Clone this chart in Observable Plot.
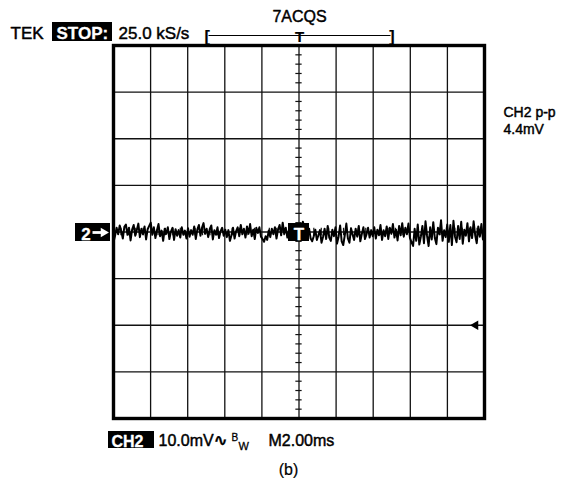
<!DOCTYPE html>
<html>
<head>
<meta charset="utf-8">
<script src="https://cdn.jsdelivr.net/npm/d3@7"></script>
<script src="https://cdn.jsdelivr.net/npm/@observablehq/plot@0.6"></script>
<style>
  html, body { margin: 0; padding: 0; background: #fff; }
</style>
</head>
<body>
<div id="chart"></div>
<script>
// ---- data (mV, 10 mV/div, 2.00 ms/div, 10 divisions) ----
const timeDivs = [0, 2, 4, 6, 8, 10, 12, 14, 16, 18, 20];          // ms
const voltDivs = [-40, -30, -20, -10, 0, 10, 20, 30, 40];          // mV
const trace = [
  -2.2, -0.8, 0.9, -0.5, 1.4, 0.2, -1.4, 1.1, 1.6, -0.6, 0.9, -1.8, 0.5, 1.5, -0.8, 0.4, 1.8, -1.1, 0.7, -0.5, 1.2, -1.6, 0.6, 1.3,
  2.0, -0.6, 1.0, -1.3, 0.4, 1.7, -0.9, 0.3, -1.9, 0.7, -0.4, 1.0, -1.5, 0.1, 0.9, -1.7, 0.6, -0.8, 0.4, -1.2, 1.0, -0.6, 0.3, -1.4,
  0.8, -1.0, 0.4, -0.6, 1.2, -1.5, 0.5, 1.5, -0.8, 0.9, 1.9, -0.4, 0.7, -1.1, 0.6, 1.4, -1.6, 0.4, -0.6, 1.0, -1.3, 0.2, 0.9, -0.8,
  0.5, -1.1, 0.4, -1.9, -0.7, 0.9, -1.4, 0.2, 1.0, -0.9, 1.5, -0.5, 0.7, -1.2, 1.2, -0.4, 1.7, -0.9, 0.5, -1.5, 0.9, -0.2, 1.0, -1.0,
  -1.5, -2.1, -0.9, -1.7, 0.3, -1.1, 0.7, -0.5, 1.0, -1.4, 0.5, 1.5, -0.7, 2.0, -0.4, 0.9, -1.2, 0.4, 1.1, -0.9, 0.7, -0.5, 0.4, 0.0,
  0.9, -0.7, 2.2, 1.0, 1.6, -0.5, 0.7, -1.4, -2.0, -0.9, 0.5, -1.7, -0.7, 0.4, -2.3, -1.0, 0.7, -1.5, 1.3, -1.2, -1.9, 0.5, -0.9, 1.0,
  -2.5, -1.0, 1.4, -2.0, -2.8, -0.7, 1.8, -1.4, -2.3, 0.8, -0.5, -1.7, 0.7, -1.0, 1.3, -2.0, -0.4, 1.0, -1.5, -0.5, 0.9, -1.2, 0.4, -0.9,
  1.0, -1.4, 0.5, -0.7, 1.5, -1.7, 0.4, -0.9, 1.2, -1.5, 0.9, -0.4, 1.7, -1.2, 0.5, -1.8, 1.3, -0.7, 1.9, -1.0, 0.9, -0.5, 1.8, -1.3,
  -2.2, -3.0, 0.7, -1.9, 1.6, -2.7, -1.0, 1.3, -2.4, 2.3, -0.8, -3.0, 1.0, -1.6, 2.1, -1.3, -2.6, 0.9, -0.5, 2.5, -1.9, 0.4, -1.1, 1.6,
  -2.1, 1.5, -2.8, 2.4, -1.0, -2.2, 1.3, -1.5, 2.2, -2.5, 0.5, -0.8, 1.9, -2.0, 1.0, -1.3, 2.3, -0.7, -2.4, 1.2, -1.0, 1.7, -1.6, 0.7
];
const minorV = [-38,-36,-34,-32,-28,-26,-24,-22,-18,-16,-14,-12,-8,-6,-4,-2,2,4,6,8,12,14,16,18,22,24,26,28,32,34,36,38];
const minorT = [0.4,0.8,1.2,1.6,2.4,2.8,3.2,3.6,4.4,4.8,5.2,5.6,6.4,6.8,7.2,7.6,8.4,8.8,9.2,9.6,
                10.4,10.8,11.2,11.6,12.4,12.8,13.2,13.6,14.4,14.8,15.2,15.6,16.4,16.8,17.2,17.6,18.4,18.8,19.2,19.6];
const triggerT = 10;      // ms, trigger position
const refLevel = -20;     // mV, trigger level arrow

// ---- layout ----
const W = 569, H = 484, ML = 113, MR = 85, MT = 45, MB = 66;
const X = px => (px - ML) / (W - ML - MR) * 20;
const V = py => 40 - (py - MT) / (H - MT - MB) * 80;
const dt = 20 / (trace.length - 1);
const font = "Liberation Sans, Arial, Helvetica, sans-serif";

// text helper (slightly thickened like the scope's display font)
const label = (s, px, py, o = {}) => {
  const col = o.fill || "#000";
  return Plot.text([s], {
    x: X(px), y: V(py), text: d => d, textAnchor: o.anchor || "start", lineAnchor: "bottom",
    fontSize: o.size || 16, fontWeight: o.weight || "normal", fontFamily: o.family || font,
    fill: col, stroke: col, strokeWidth: o.sw == null ? 0.45 : o.sw
  });
};

const plot = Plot.plot({
  width: W, height: H,
  marginLeft: ML, marginRight: MR, marginTop: MT, marginBottom: MB,
  x: {domain: [0, 20], axis: null},
  y: {domain: [-40, 40], axis: null},
  style: {fontFamily: font, fontSize: "16px", background: "#fff", color: "#000"},
  marks: [
    // graticule
    Plot.ruleX(timeDivs, {stroke: "#111", strokeWidth: 1.3}),
    Plot.ruleY(voltDivs, {stroke: "#111", strokeWidth: 1.3}),
    Plot.ruleY(minorV, {y: d => d, x1: triggerT - 0.17, x2: triggerT + 0.17, stroke: "#111", strokeWidth: 1.2}),
    Plot.ruleX(minorT, {x: d => d, y1: -0.8, y2: 0.8, stroke: "#111", strokeWidth: 1.2}),
    // trace
    Plot.line(trace, {x: (d, i) => i * dt, y: d => d, stroke: "#000", strokeWidth: 2}),
    // frame
    Plot.frame({stroke: "#000", strokeWidth: 3.4}),
    // trigger level arrowhead at right edge
    Plot.dot([refLevel], {x: X(475), y: d => d, symbol: "triangle2", r: 4.5, rotate: -90, fill: "#000"}),
    // center trigger "T" box
    Plot.rect([0], {x1: X(288), x2: X(309), y1: V(241), y2: V(223), fill: "#000"}),
    label("T", 298.5, 239, {anchor: "middle", weight: "bold", size: 17, fill: "#fff", sw: 0.3}),
    // channel 2 ground marker
    Plot.rect([0], {x1: X(75), x2: X(110), y1: V(241), y2: V(223), fill: "#000"}),
    label("2", 85.5, 239, {anchor: "middle", weight: "bold", size: 17, fill: "#fff", sw: 0.3}),
    Plot.link([0], {x1: X(92), y1: V(232), x2: X(102), y2: V(232), stroke: "#fff", strokeWidth: 2.8}),
    Plot.dot([0], {x: X(103), y: V(232), symbol: "triangle2", r: 4.5, rotate: 90, fill: "#fff"}),
    // top status line
    label("TEK", 10, 38.5, {size: 17}),
    Plot.rect([0], {x1: X(52), x2: X(112), y1: V(41), y2: V(22), fill: "#000"}),
    label("STOP:", 56, 38.5, {size: 17, weight: "bold", fill: "#fff", sw: 0.3}),
    label("25.0 kS/s", 118, 38.5, {size: 17}),
    label("7ACQS", 299, 21, {anchor: "middle", size: 16}),
    Plot.link([0], {x1: X(208), x2: X(390), y1: V(35), y2: V(35), stroke: "#000", strokeWidth: 1.2}),
    label("[", 204, 41, {size: 16, weight: "bold", sw: 0.2}),
    label("]", 394, 41, {anchor: "end", size: 16, weight: "bold", sw: 0.2}),
    label("T", 299, 41, {anchor: "middle", size: 15, weight: "bold", sw: 0.2}),
    // right readout
    label("CH2 p-p", 503, 116, {size: 14}),
    label("4.4mV", 503, 133, {size: 14}),
    // bottom status line
    Plot.rect([0], {x1: X(108), x2: X(154), y1: V(448), y2: V(431), fill: "#000"}),
    label("CH2", 111, 446, {size: 16, weight: "bold", fill: "#fff", sw: 0.3}),
    label("10.0mV", 158, 445, {size: 16}),
    label("∿", 213, 445, {size: 17, weight: "bold", family: "DejaVu Sans", sw: 0.3}),
    label("B", 231, 440, {size: 10, sw: 0.3}),
    label("W", 238, 449, {size: 11, sw: 0.3}),
    label("M2.00ms", 268, 445, {size: 16}),
    label("(b)", 288, 474, {anchor: "middle", size: 16, sw: 0.2})
  ]
});
document.getElementById("chart").appendChild(plot);
</script>
</body>
</html>
